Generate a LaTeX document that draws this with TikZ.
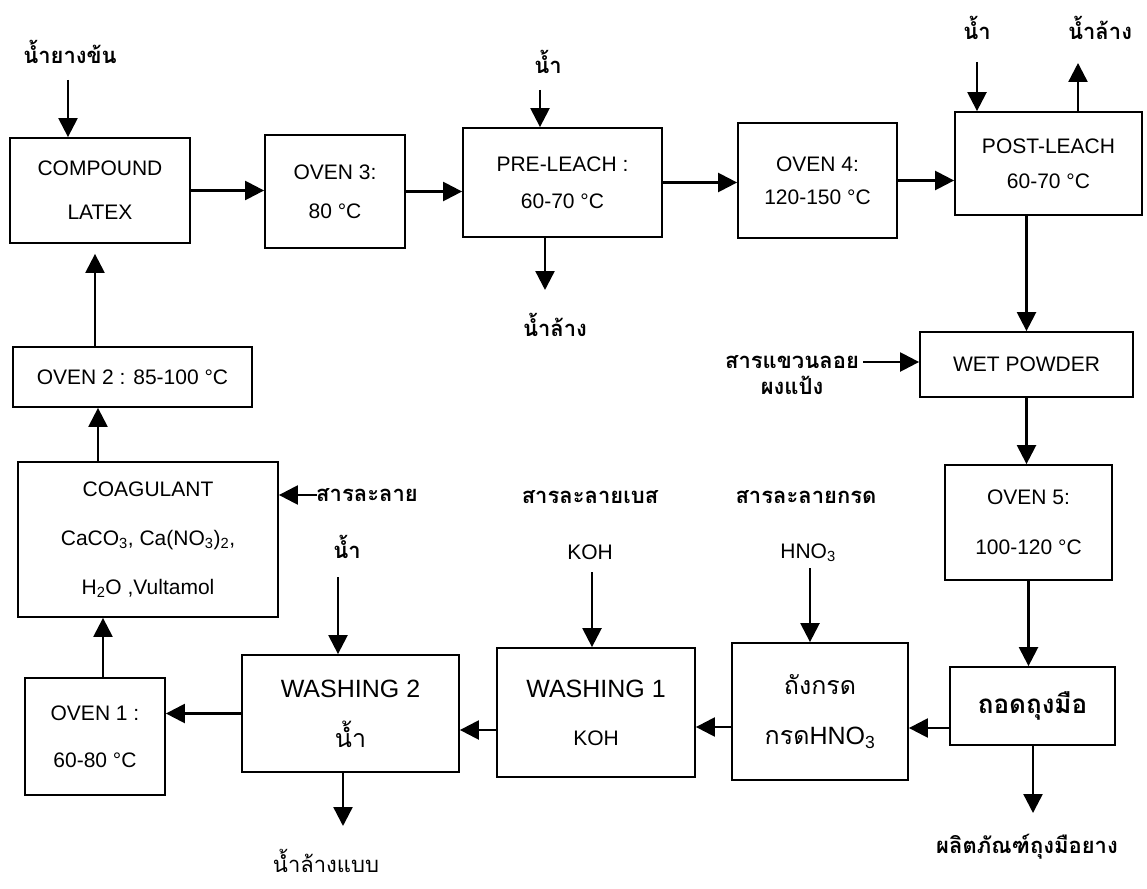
\documentclass[tikz,border=0pt]{standalone}
\usepackage{fontspec}
\setmainfont{Liberation Sans}
\newfontfamily\thai[Script=Thai]{Loma}
\usetikzlibrary{arrows.meta}
\begin{document}
\begin{tikzpicture}[x=1pt,y=-1pt,>={Triangle[length=19pt,width=19pt]},
  box/.style={draw,line width=1.8pt,align=center,inner sep=0pt,font=\fontsize{21}{#1}\selectfont},
  box/.default=40,
  lbl/.style={inner sep=0pt,font=\thai\bfseries\fontsize{22}{27}\selectfont,align=center},
  flow/.style={->,line width=2.4pt}]
\useasboundingbox (0,0) rectangle (1147,888);

% top row
\node[box=44,minimum width=180pt,minimum height=105pt] (compound) at (100,190.5) {COMPOUND\\LATEX};
\node[box=39,minimum width=140pt,minimum height=113pt] (oven3) at (335,191.5) {OVEN 3:\\80 °C};
\node[box=37,minimum width=199pt,minimum height=109pt] (preleach) at (562.5,182.5) {PRE-LEACH :\\60-70 °C};
\node[box=33,minimum width=159pt,minimum height=115pt] (oven4) at (817.5,180.5) {OVEN 4:\\120-150 °C};
\node[box=35,minimum width=187pt,minimum height=103pt] (postleach) at (1048.5,163.5) {POST-LEACH\\60-70 °C};

% right column
\node[box,minimum width=213pt,minimum height=65pt] (wetpowder) at (1026.5,364.5) {WET POWDER};
\node[box=50,minimum width=167pt,minimum height=115pt] (oven5) at (1028.5,522.5) {OVEN 5:\\100-120 °C};
\node[box,minimum width=165pt,minimum height=78pt,font=\thai\bfseries\fontsize{26}{30}\selectfont] (removal) at (1032.5,706) {ถอดถุงมือ};

% bottom row
\node[box,minimum width=176pt,minimum height=137pt,font=\fontsize{25}{50}\selectfont] (acidtank) at (820,711.5) {{\thai ถังกรด}\\{\thai กรด}HNO\textsubscript{3}};
\node[box,minimum width=198pt,minimum height=129pt,font=\fontsize{25}{48}\selectfont] (washing1) at (596,712.5) {WASHING 1\\{\fontsize{21}{48}\selectfont KOH}};
\node[box,minimum width=217pt,minimum height=117pt,font=\fontsize{25}{50}\selectfont] (washing2) at (350.5,713.5) {WASHING 2\\{\thai น้ำ}};
\node[box=47,minimum width=140pt,minimum height=117pt] (oven1) at (95,736.5) {OVEN 1 :\\60-80 °C};

% left column
\node[box=49,minimum width=260pt,minimum height=155pt] (coagulant) at (148,539.5) {COAGULANT\\CaCO\textsubscript{3}, Ca(NO\textsubscript{3})\textsubscript{2},\\H\textsubscript{2}O ,Vultamol};
\node[box,minimum width=239pt,minimum height=60pt] (oven2) at (132.5,377) {OVEN 2 : 85-100 °C};

% labels
\node[lbl] (latexlbl) at (70,52) {น้ำยางข้น};
\node[lbl] (water1) at (548,62) {น้ำ};
\node[lbl] (rinse1) at (555,325) {น้ำล้าง};
\node[lbl] (water2) at (977,28) {น้ำ};
\node[lbl] (rinse2) at (1100,28) {น้ำล้าง};
\node[lbl,font=\thai\bfseries\fontsize{22}{26}\selectfont] (susp) at (792,375) {สารแขวนลอย\\ผงแป้ง};
\node[lbl] (solv) at (367,495) {สารละลาย};
\node[lbl] (water3) at (347,547) {น้ำ};
\node[lbl] (base) at (590,497) {สารละลายเบส};
\node[font=\fontsize{21}{25}\selectfont,inner sep=0pt] (koh) at (590,552) {KOH};
\node[lbl] (acid) at (806,497) {สารละลายกรด};
\node[font=\fontsize{21}{25}\selectfont,inner sep=0pt] (hno) at (808,553) {HNO\textsubscript{3}};
\node[lbl] (product) at (1027,847) {ผลิตภัณฑ์ถุงมือยาง};
\node[lbl,font=\thai\fontsize{22}{27}\selectfont] (rinse3) at (326,861) {น้ำล้างแบบ};

% free ends
\coordinate (latexin) at (68,80);
\coordinate (prein) at (540,90);
\coordinate (preout) at (545,290);
\coordinate (postin) at (977,62);
\coordinate (postout) at (1078,63);
\coordinate (suspin) at (863,362);
\coordinate (prodout) at (1033,813);
\coordinate (acidin) at (810,568);
\coordinate (basein) at (592,572);
\coordinate (waterin) at (338,577);
\coordinate (rinseout) at (343,826);
\coordinate (solvin) at (317,495);

\draw[flow] (latexin) -- (latexin |- compound.north);
\draw[flow] (compound.east) -- (compound.east -| oven3.west);
\draw[flow] (oven3.east) -- (oven3.east -| preleach.west);
\draw[flow] (prein) -- (prein |- preleach.north);
\draw[flow] (preout |- preleach.south) -- (preout);
\draw[flow] (preleach.east) -- (preleach.east -| oven4.west);
\draw[flow] (oven4.east) -- (oven4.east -| postleach.west);
\draw[flow] (postin) -- (postin |- postleach.north);
\draw[flow] (postout |- postleach.north) -- (postout);
\draw[flow] (postleach.south -| wetpowder.north) -- (wetpowder.north);
\draw[flow] (suspin) -- (suspin -| wetpowder.west);
\draw[flow] (wetpowder.south) -- (wetpowder.south |- oven5.north);
\draw[flow] (oven5.south) -- (oven5.south |- removal.north);
\draw[flow] (prodout |- removal.south) -- (prodout);
\draw[flow] ([yshift=-22pt]removal.west) -- ([yshift=-22pt]removal.west -| acidtank.east);
\draw[flow] (acidin) -- (acidin |- acidtank.north);
\draw[flow] ([yshift=-15.5pt]acidtank.west) -- ([yshift=-15.5pt]acidtank.west -| washing1.east);
\draw[flow] (basein) -- (basein |- washing1.north);
\draw[flow] ([yshift=-17.5pt]washing1.west) -- ([yshift=-17.5pt]washing1.west -| washing2.east);
\draw[flow] (waterin) -- (waterin |- washing2.north);
\draw[flow] (rinseout |- washing2.south) -- (rinseout);
\draw[flow] (washing2.west) -- (washing2.west -| oven1.east);
\draw[flow] ([xshift=8pt]oven1.north) -- ([xshift=8pt]oven1.north |- coagulant.south);
\draw[flow] (solvin) -- (solvin -| coagulant.east);
\draw[flow] ([xshift=-50pt]coagulant.north) -- ([xshift=-50pt]coagulant.north |- oven2.south);
\draw[flow,shorten >=10pt] ([xshift=-37.5pt]oven2.north) -- ([xshift=-37.5pt]oven2.north |- compound.south);
\end{tikzpicture}
\end{document}
